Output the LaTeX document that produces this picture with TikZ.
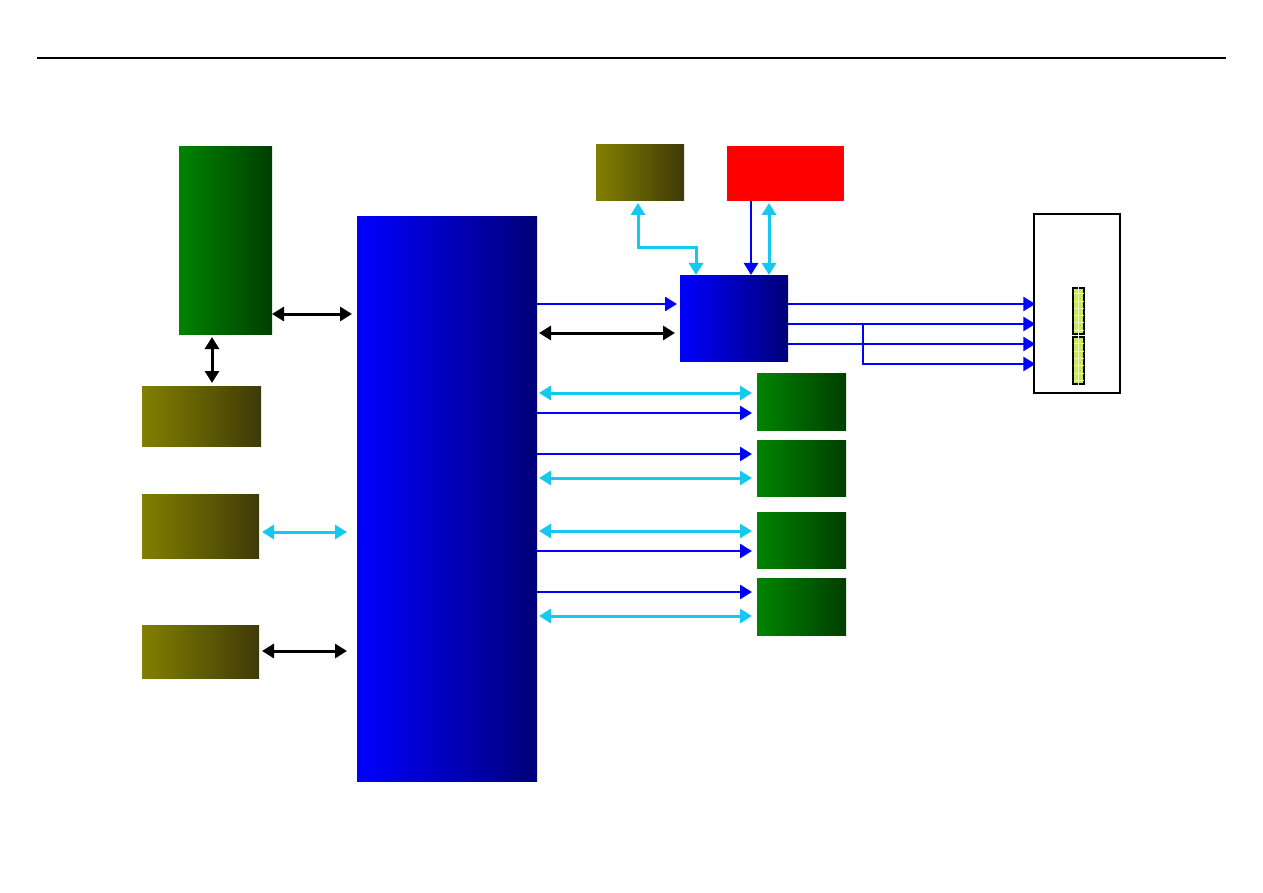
\documentclass[tikz,border=0pt]{standalone}
\usetikzlibrary{arrows.meta,calc}
\definecolor{cy}{RGB}{20,200,240}
\definecolor{bl}{RGB}{0,0,255}
\definecolor{gL}{RGB}{0,132,0}
\definecolor{gR}{RGB}{0,62,0}
\definecolor{oL}{RGB}{130,128,0}
\definecolor{oR}{RGB}{62,58,8}
\definecolor{bL}{RGB}{0,0,255}
\definecolor{bR}{RGB}{0,0,120}
\definecolor{pin}{RGB}{205,232,95}
\tikzset{
  box/.style={rectangle,inner sep=0pt,outer sep=0pt,draw=none},
  grn/.style={box,left color=gL,right color=gR},
  olv/.style={box,left color=oL,right color=oR},
  blu/.style={box,left color=bL,right color=bR},
  blk/.style={draw=black,line width=3pt,{Triangle[length=12pt,width=14pt]}-{Triangle[length=12pt,width=14pt]}},
  cyd/.style={draw=cy,line width=3pt,{Triangle[length=12pt,width=14pt]}-{Triangle[length=12pt,width=14pt]}},
  bls/.style={draw=bl,line width=2.6pt,-{Triangle[length=12pt,width=14pt]}},
}
\begin{document}
\begin{tikzpicture}[x=1pt,y=-1pt]
\useasboundingbox (0,0) rectangle (1263,893);
\draw[line width=1.5pt] (37,58) -- (1226,58);
% boxes
\node[grn,minimum width=93pt,minimum height=187pt] (gtall) at (225.5,240.5) {};
\node[olv,minimum width=119pt,minimum height=60pt] (ol1) at (201.5,416) {};
\node[olv,minimum width=117pt,minimum height=64pt] (ol2) at (200.5,526) {};
\node[olv,minimum width=117pt,minimum height=53pt] (ol3) at (200.5,651.5) {};
\node[blu,minimum width=180pt,minimum height=564pt] (big) at (447,499) {};
\node[olv,minimum width=88pt,minimum height=56pt] (oltop) at (640,173) {};
\node[box,fill=red,minimum width=117pt,minimum height=55pt] (red) at (785.5,173.5) {};
\node[blu,minimum width=108pt,minimum height=85pt] (bsm) at (734,318.5) {};
\node[grn,minimum width=89pt,minimum height=57pt] (gr1) at (801.5,401.5) {};
\node[grn,minimum width=89pt,minimum height=56pt] (gr2) at (801.5,468) {};
\node[grn,minimum width=89pt,minimum height=56pt] (gr3) at (801.5,540) {};
\node[grn,minimum width=89pt,minimum height=57pt] (gr4) at (801.5,606.5) {};
\node[rectangle,draw=black,line width=1.4pt,fill=white,inner sep=0pt,minimum width=86pt,minimum height=179pt] (conn) at (1077,303.5) {};
\node[rectangle,draw=black,line width=2pt,fill=pin,inner sep=0pt,minimum width=11pt,minimum height=46pt] (p1) at (1078.5,310.5) {};
\node[rectangle,draw=black,line width=2pt,fill=pin,inner sep=0pt,minimum width=11pt,minimum height=47pt] (p2) at (1078.5,360.5) {};
\foreach \p in {p1,p2}{
  \draw[white!60!pin,line width=0.4pt] (\p.north) -- (\p.south);
  \foreach \f in {0.15,0.3,0.45,0.6,0.75,0.9}
    \draw[white!60!pin,line width=0.4pt] ($(\p.north west)!\f!(\p.south west)+(1.5,0)$) -- ($(\p.north east)!\f!(\p.south east)+(-1.5,0)$);
}
% left side connectors
\draw[blk] (gtall.east |- 0,314) -- ($(big.west |- 0,314)+(-5,0)$);
\draw[blk] ($(gtall.south -| 212,0)+(0,3)$) -- ($(ol1.north -| 212,0)+(0,-3)$);
\draw[cyd] ($(ol2.east |- 0,532)+(3,0)$) -- ($(big.west |- 0,532)+(-10,0)$);
\draw[blk] ($(ol3.east |- 0,651)+(3,0)$) -- ($(big.west |- 0,651)+(-10,0)$);
% big to small blue box
\draw[bls] (big.east |- 0,304) -- ($(bsm.west |- 0,304)+(-3,0)$);
\draw[blk] ($(big.east |- 0,333)+(2,0)$) -- ($(bsm.west |- 0,333)+(-5,0)$);
% big to green boxes
\draw[cyd] ($(big.east |- 0,393)+(2,0)$) -- ($(gr1.west |- 0,393)+(-5,0)$);
\draw[bls] (big.east |- 0,413) -- ($(gr1.west |- 0,413)+(-5,0)$);
\draw[bls] (big.east |- 0,454) -- ($(gr2.west |- 0,454)+(-5,0)$);
\draw[cyd] ($(big.east |- 0,478)+(2,0)$) -- ($(gr2.west |- 0,478)+(-5,0)$);
\draw[cyd] ($(big.east |- 0,531)+(2,0)$) -- ($(gr3.west |- 0,531)+(-5,0)$);
\draw[bls] (big.east |- 0,551) -- ($(gr3.west |- 0,551)+(-5,0)$);
\draw[bls] (big.east |- 0,592) -- ($(gr4.west |- 0,592)+(-5,0)$);
\draw[cyd] ($(big.east |- 0,616)+(2,0)$) -- ($(gr4.west |- 0,616)+(-5,0)$);
% top boxes to small blue box
\draw[cyd] ($(oltop.south -| 638,0)+(0,2)$) -- (638,248) -- (696,248) -- ($(bsm.north -| 696,0)+(0,-1)$);
\draw[bls] (red.south -| 751,0) -- ($(bsm.north -| 751,0)+(0,-1)$);
\draw[cyd] ($(red.south -| 769,0)+(0,2)$) -- ($(bsm.north -| 769,0)+(0,-1)$);
% small blue box to connector
\draw[bls] (bsm.east |- 0,304) -- ($(conn.west |- 0,304)+(2,0)$);
\draw[bls] (bsm.east |- 0,324) -- ($(conn.west |- 0,324)+(2,0)$);
\draw[bls] (bsm.east |- 0,344) -- ($(conn.west |- 0,344)+(2,0)$);
\coordinate (br) at (863,324);
\draw[bls] (br) -- (863,364) -- ($(conn.west |- 0,364)+(2,0)$);
\end{tikzpicture}
\end{document}
